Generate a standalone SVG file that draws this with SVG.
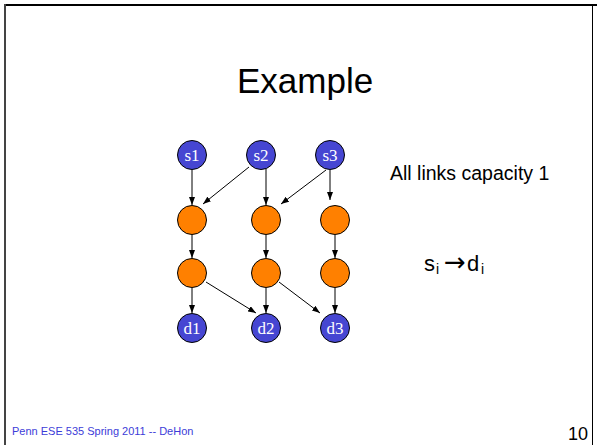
<svg xmlns="http://www.w3.org/2000/svg" width="597" height="445" viewBox="0 0 597 445">
<defs>
<marker id="ah" viewBox="0 0 8 6" refX="8" refY="3" markerWidth="8" markerHeight="6" markerUnits="userSpaceOnUse" orient="auto">
<path d="M0,0 L8,3 L0,6 z" fill="#000"/>
</marker>
</defs>
<style>
.src{fill:#4646d2;stroke:#000;stroke-width:1}
.mid{fill:#ff8000;stroke:#000;stroke-width:1}
.lbl{font-family:"Liberation Serif",serif;font-size:17px;fill:#fff;text-anchor:middle}
.edge{stroke:#000;stroke-width:1;fill:none;marker-end:url(#ah)}
.sans{font-family:"Liberation Sans",Arial,sans-serif}
</style>
<rect width="597" height="445" fill="#fff"/>
<g id="frame" fill="none">
<line x1="4" y1="5" x2="597" y2="5" stroke="#000" stroke-width="2"/>
<line x1="5" y1="4" x2="5" y2="445" stroke="#444" stroke-width="2"/>
<line x1="592.5" y1="4" x2="592.5" y2="445" stroke="#000" stroke-width="1"/>
</g>
<text id="title" class="sans" x="237" y="93" font-size="35" fill="#000">Example</text>
<g id="connectors">
<line class="edge" x1="192" y1="170" x2="192" y2="205"/>
<line class="edge" x1="249" y1="167" x2="203" y2="204"/>
<line class="edge" x1="266" y1="169" x2="266" y2="205"/>
<line class="edge" x1="326" y1="170" x2="281" y2="204"/>
<line class="edge" x1="330" y1="170" x2="330" y2="200"/>
<line class="edge" x1="192" y1="235" x2="192" y2="258"/>
<line class="edge" x1="266" y1="235" x2="266" y2="258"/>
<line class="edge" x1="335" y1="235" x2="335" y2="258"/>
<line class="edge" x1="192" y1="288" x2="192" y2="313"/>
<line class="edge" x1="206" y1="282" x2="256" y2="313"/>
<line class="edge" x1="266" y1="288" x2="266" y2="313"/>
<line class="edge" x1="279" y1="282" x2="320" y2="313"/>
<line class="edge" x1="335" y1="288" x2="335" y2="313"/>
</g>
<g id="s1"><circle class="src" cx="192" cy="155" r="14.5"/><text class="lbl" x="192" y="161">s1</text></g>
<g id="s2"><circle class="src" cx="261" cy="155" r="14.5"/><text class="lbl" x="261" y="161">s2</text></g>
<g id="s3"><circle class="src" cx="330" cy="155" r="14.5"/><text class="lbl" x="330" y="161">s3</text></g>
<g id="a1"><circle class="mid" cx="192" cy="220" r="14.5"/></g>
<g id="a2"><circle class="mid" cx="266" cy="220" r="14.5"/></g>
<g id="a3"><circle class="mid" cx="335" cy="220" r="14.5"/></g>
<g id="b1"><circle class="mid" cx="192" cy="273" r="14.5"/></g>
<g id="b2"><circle class="mid" cx="266" cy="273" r="14.5"/></g>
<g id="b3"><circle class="mid" cx="335" cy="273" r="14.5"/></g>
<g id="d1"><circle class="src" cx="192" cy="328" r="14.5"/><text class="lbl" x="192" y="334">d1</text></g>
<g id="d2"><circle class="src" cx="266" cy="328" r="14.5"/><text class="lbl" x="266" y="334">d2</text></g>
<g id="d3"><circle class="src" cx="335" cy="328" r="14.5"/><text class="lbl" x="335" y="334">d3</text></g>
<text id="note" class="sans" x="390" y="180" font-size="19.5" fill="#000">All links capacity 1</text>
<text id="flow" class="sans" font-size="22" fill="#000"><tspan x="424" y="271">s</tspan><tspan x="436" y="274" font-size="14">i</tspan><tspan x="444" y="271" font-family="DejaVu Sans" font-size="26">→</tspan><tspan x="467" y="271">d</tspan><tspan x="481" y="274" font-size="14">i</tspan></text>
<text id="footer" class="sans" x="12" y="435" font-size="11" fill="#3c3cd8">Penn ESE 535 Spring 2011 -- DeHon</text>
<text id="pagenum" class="sans" x="588" y="440" font-size="18" fill="#000" text-anchor="end">10</text>
</svg>
